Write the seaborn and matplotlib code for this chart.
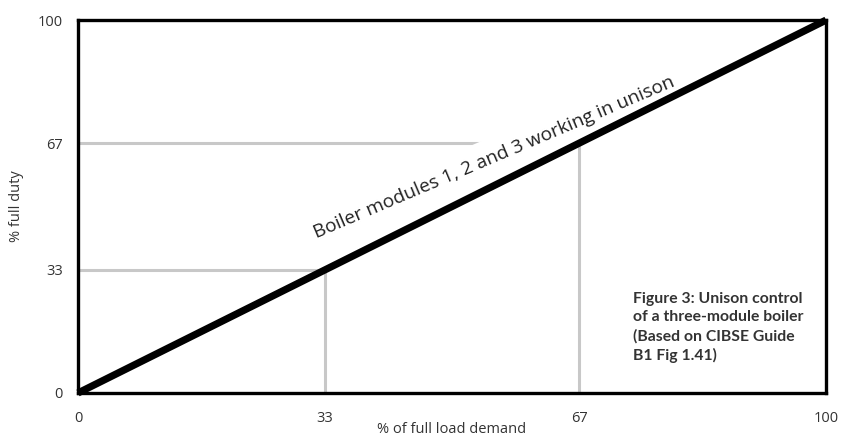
import matplotlib
matplotlib.use('Agg')
import pandas as pd
import matplotlib.pyplot as plt
import seaborn as sns

# chart values
load_demand = [0, 100]
full_duty = [0, 100]
tick_values = [0, 33, 67, 100]
guide_levels = [33, 67]
line_label = 'Boiler modules 1, 2 and 3 working in unison'
caption = ('Figure 3: Unison control\n'
           'of a three-module boiler\n'
           '(Based on CIBSE Guide\n'
           'B1 Fig 1.41)')

sns.set_theme(style='white')
plt.rcParams['font.family'] = ['Open Sans', 'DejaVu Sans']

grey = '#333333'
guide = '#c8c8c8'

fig = plt.figure(figsize=(8.56, 4.37), dpi=100)
ax = fig.add_axes([0.0911, 0.1007, 0.8739, 0.8533])

# guide lines up to the diagonal
for g in guide_levels:
    ax.plot([0, g], [g, g], color=guide, lw=2.2, solid_capstyle='butt', zorder=1)
    ax.plot([g, g], [0, g], color=guide, lw=2.2, solid_capstyle='butt', zorder=1)

df = pd.DataFrame({'load': load_demand, 'duty': full_duty})
sns.lineplot(data=df, x='load', y='duty', ax=ax, color='black', lw=5.2,
             zorder=4, clip_on=False, solid_capstyle='butt')

ax.text(55.9, 61.9, line_label, rotation=23, rotation_mode='anchor',
        ha='center', va='baseline', fontsize=13.8, color='#222222',
        bbox=dict(facecolor='white', edgecolor='none', pad=8), zorder=3)

ax.text(0.742, 0.27, caption, transform=ax.transAxes, ha='left', va='top',
        fontsize=11.3, fontweight='bold', color=grey, linespacing=1.38,
        family=['Lato', 'DejaVu Sans'])

ax.set_xlim(0, 100)
ax.set_ylim(0, 100)
ax.set_xticks(tick_values)
ax.set_yticks(tick_values)
ax.tick_params(axis='both', length=0, labelsize=10.5, labelcolor=grey, pad=11)
ax.tick_params(axis='x', pad=13)
ax.set_xlabel('% of full load demand', fontsize=10.5, color=grey, labelpad=-3)
ax.set_ylabel('% full duty', fontsize=10.5, color=grey, labelpad=10)

for s in ax.spines.values():
    s.set_color('black')
    s.set_linewidth(2.4)
    s.set_zorder(5)

fig.savefig('out.png', dpi=100)
